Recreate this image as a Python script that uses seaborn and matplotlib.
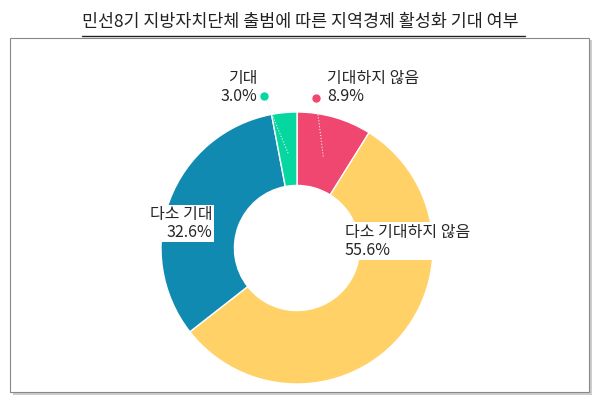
import numpy as np
import seaborn as sns
import matplotlib
matplotlib.use('Agg')
import matplotlib.pyplot as plt
from matplotlib.patches import Rectangle

sns.set_style('white')
plt.rcParams['font.family'] = ['Noto Sans CJK JP', 'Noto Sans CJK KR', 'Noto Sans CJK SC']

title = "민선8기 지방자치단체 출범에 따른 지역경제 활성화 기대 여부"
categories = ["기대하지 않음", "다소 기대하지 않음", "다소 기대", "기대"]
values = [8.9, 55.6, 32.6, 3.0]
colors = ["#EF476F", "#FFD166", "#118AB2", "#06D6A0"]

fig = plt.figure(figsize=(6, 4), dpi=100)
# frame box with shadow
fig.patches.append(Rectangle((0.022, 0.012), 0.965, 0.888, transform=fig.transFigure,
                             facecolor='#cccccc', edgecolor='none', zorder=0))
fig.patches.append(Rectangle((0.017, 0.02), 0.965, 0.885, transform=fig.transFigure,
                             facecolor='white', edgecolor='#888888', lw=0.8, zorder=1))
fig.text(0.5, 0.945, title, ha='center', va='center', fontsize=12.5,
         color='#222222')
fig.add_artist(plt.Line2D([0.137, 0.875], [0.91, 0.91], color='#222222', lw=1))

# axes sized so that radius 1 = 136 px, centre at (297, 248) px from top-left
ax = fig.add_axes([161 / 600, 16 / 400, 272 / 600, 272 / 400])
ax.set_zorder(2)
wedges, _ = ax.pie(values, colors=colors, startangle=90, counterclock=False,
                   wedgeprops=dict(width=0.54, edgecolor='white', linewidth=1))
ax.set_xlim(-1, 1)
ax.set_ylim(-1, 1)
ax.set_aspect('auto')

def mid(w, r):
    a = np.deg2rad((w.theta1 + w.theta2) / 2)
    return r * np.cos(a), r * np.sin(a)

# small-slice labels with leader lines
for i, (lx, ly) in [(0, (0.14, 1.10)), (3, (-0.24, 1.12))]:
    x1, y1 = mid(wedges[i], 0.7)
    ax.plot([x1, lx], [y1, ly], color='#eeeeee', lw=0.8, ls=':', clip_on=False)
    ax.plot(lx, ly, 'o', color=colors[i], ms=5, clip_on=False)
ax.text(0.22, 1.18, f"{categories[0]}\n{values[0]}%", ha='left', va='center',
        fontsize=11.5, linespacing=1.05)
ax.text(-0.29, 1.18, f"{categories[3]}\n{values[3]}%", ha='right', va='center',
        fontsize=11.5, linespacing=1.05)
ax.text(0.35, 0.05, f"{categories[1]}\n{values[1]}%", ha='left', va='center', fontsize=11.5,
        linespacing=1.05, bbox=dict(facecolor='white', edgecolor='none', pad=1))
ax.text(-0.62, 0.18, f"{categories[2]}\n{values[2]}%", ha='right', va='center', fontsize=11.5,
        linespacing=1.05, bbox=dict(facecolor='white', edgecolor='none', pad=1))

fig.savefig('out.png', dpi=100)
